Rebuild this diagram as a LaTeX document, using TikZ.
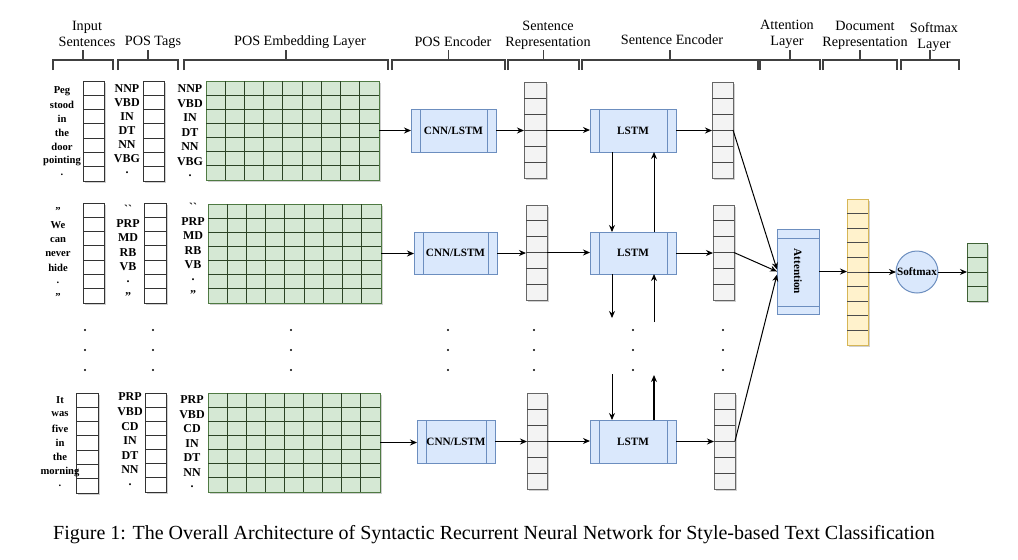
\documentclass[tikz,border=0pt]{standalone}
\usepackage{fontspec}
\setmainfont{Liberation Serif}
\newfontfamily\crudo[Ligatures=TeXOff]{Liberation Serif}
\usetikzlibrary{arrows.meta,calc,fit,shadows}

\definecolor{verdechiaro}{HTML}{D5E8D4}
\definecolor{verdescuro}{HTML}{4F7A43}
\definecolor{azzurro}{HTML}{DAE8FC}
\definecolor{bluscuro}{HTML}{6C8EBF}
\definecolor{giallino}{HTML}{FFF2CC}
\definecolor{ocra}{HTML}{D6B656}
\definecolor{grigino}{HTML}{F3F3F3}
\definecolor{grigio}{HTML}{666666}

\tikzset{
  freccia/.style={-{Stealth[length=3.5pt,width=3pt]}, line width=0.5pt},
  ombra/.style={drop shadow={shadow xshift=0.8pt, shadow yshift=-0.8pt, opacity=0.3, fill=black!60}},
  cornice/.style={inner sep=0pt, outer sep=0pt, line width=0.5pt},
  vbianco/.style={cornice, ombra, draw=black!80, fill=white},
  vgrigio/.style={cornice, ombra, draw=grigio, fill=grigino},
  vgiallo/.style={cornice, ombra, draw=ocra, fill=giallino},
  vverde/.style={cornice, ombra, draw=verdescuro, fill=verdechiaro},
  scatola/.style={cornice, draw=bluscuro, fill=azzurro, font=\bfseries\fontsize{5.6}{6}\selectfont},
  testo/.style={inner sep=0pt, font=\bfseries\fontsize{5.6}{6}\selectfont},
  processo/.style={scatola,
    path picture={
      \draw[bluscuro, line width=0.5pt] ([xshift=4.5pt]path picture bounding box.north west) -- ([xshift=4.5pt]path picture bounding box.south west);
      \draw[bluscuro, line width=0.5pt] ([xshift=-4.5pt]path picture bounding box.north east) -- ([xshift=-4.5pt]path picture bounding box.south east);}},
  attenzione/.style={scatola,
    path picture={
      \draw[bluscuro, line width=0.5pt] ([yshift=-4.5pt]path picture bounding box.north west) -- ([yshift=-4.5pt]path picture bounding box.north east);
      \draw[bluscuro, line width=0.5pt] ([yshift=4pt]path picture bounding box.south west) -- ([yshift=4pt]path picture bounding box.south east);}},
  testata/.style={align=center, inner sep=0pt, font=\fontsize{7.1}{8}\selectfont},
  parentesi/.style={line width=0.6pt, black!75},
  parola/.style={inner sep=0pt, font=\bfseries\fontsize{5.3}{6}\selectfont},
  etichetta/.style={inner sep=0pt, font=\bfseries\fontsize{6}{7}\selectfont},
  didascalia/.style={inner sep=0pt, font=\fontsize{10}{12}\selectfont}
}

% righe orizzontali e colonne verticali dentro un nodo
\newcommand{\righe}[3]{%
  \pgfmathtruncatemacro{\nr}{#2-1}%
  \foreach \k in {1,...,\nr}{
    \draw[#3, line width=0.5pt] ($(#1.north west)!\k/#2!(#1.south west)$) -- ($(#1.north east)!\k/#2!(#1.south east)$);}}
\newcommand{\colonne}[3]{%
  \pgfmathtruncatemacro{\nc}{#2-1}%
  \foreach \k in {1,...,\nc}{
    \draw[#3, line width=0.5pt] ($(#1.north west)!\k/#2!(#1.north east)$) -- ($(#1.south west)!\k/#2!(#1.south east)$);}}

\begin{document}
\begin{tikzpicture}[x=0.5pt, y=-0.5pt]
        \useasboundingbox (0,0) rectangle (1018,559);
        \fill[white] (0,0) rectangle (1018,559);

        % Intestazioni
        \node[testata] (hIn)  at (87,34)  {Input\\Sentences};
        \node[testata] (hTag) at (153,42) {POS Tags};
        \node[testata] (hEmb) at (300,42) {POS Embedding Layer};
        \node[testata] (hCod) at (453,42) {POS Encoder};
        \node[testata] (hRap) at (548,35) {Sentence\\Representation};
        \node[testata] (hFra) at (672,40) {Sentence Encoder};
        \node[testata] (hAtt) at (787,34) {Attention\\Layer};
        \node[testata] (hDoc) at (865,35) {Document\\Representation};
        \node[testata] (hSof) at (934,37) {Softmax\\Layer};

        % Parentesi sopra le colonne
        \foreach \a/\b in {53/113, 118/178, 184/388, 392/505, 508/579, 582/758, 760/820, 823/897, 901/959}{
          \draw[parentesi] (\a,70) -- (\a,60) -- (\b,60) -- (\b,70);
          \draw[parentesi] ({(\a+\b)/2},60) -- ({(\a+\b)/2},50);
        }

        % Prima frase
        \node[vbianco, fit={(83,81) (104,181)}] (in1) {};
        \righe{in1}{7}{black!80}
        \node[vbianco, fit={(143,81) (164,181)}] (pos1) {};
        \righe{pos1}{7}{black!80}
        \node[vverde, fit={(206,81) (379,180)}] (emb1) {};
        \righe{emb1}{7}{verdescuro!55!black}
        \colonne{emb1}{9}{verdescuro!55!black}
        \foreach \w [count=\i] in {Peg,stood,in,the,door,pointing,.}
          \node[parola] (w1\i) at (62,{91+14*(\i-1)}) {\w};
        \foreach \w [count=\i] in {NNP,VBD,IN,DT,NN,VBG,.}
          \node[etichetta] (t1\i) at (127,{89+14*(\i-1)}) {\w};
        \foreach \w [count=\i] in {NNP,VBD,IN,DT,NN,VBG,.}
          \node[etichetta] (e1\i) at (190,{89+14.5*(\i-1)}) {\w};
        \node[processo, fit={(411,109) (496,152)}] (cnn1) {};
        \node[testo] (cnn1t) at (cnn1.center) {CNN/LSTM};
        \node[vgrigio, fit={(524,82) (546,178)}] (rs1) {};
        \righe{rs1}{6}{grigio!70!black}
        \node[processo, fit={(590,109) (676,152)}] (lstm1) {};
        \node[testo] (lstm1t) at (lstm1.center) {LSTM};
        \node[vgrigio, fit={(712,82) (733,178)}] (out1) {};
        \righe{out1}{6}{grigio!70!black}

        % Seconda frase
        \node[vbianco, fit={(83,203) (104,303)}] (in2) {};
        \righe{in2}{7}{black!80}
        \node[vbianco, fit={(144,203) (166,303)}] (pos2) {};
        \righe{pos2}{7}{black!80}
        \node[vverde, fit={(208,204) (381,303)}] (emb2) {};
        \righe{emb2}{7}{verdescuro!55!black}
        \colonne{emb2}{9}{verdescuro!55!black}
        \foreach \w [count=\i] in {{''},We,can,never,hide,.,{''}}
          \node[parola] (w2\i) at (58,{211+14.3*(\i-1)}) {\w};
        \foreach \w [count=\i] in {{\crudo ``},PRP,MD,RB,VB,.,{''}}
          \node[etichetta] (t2\i) at (128,{209+14.5*(\i-1)}) {\w};
        \foreach \w [count=\i] in {{\crudo ``},PRP,MD,RB,VB,.,{''}}
          \node[etichetta] (e2\i) at (193,{207+14.5*(\i-1)}) {\w};
        \node[processo, fit={(414,232) (497,274)}] (cnn2) {};
        \node[testo] (cnn2t) at (cnn2.center) {CNN/LSTM};
        \node[vgrigio, fit={(526,205) (547,300)}] (rs2) {};
        \righe{rs2}{6}{grigio!70!black}
        \node[processo, fit={(590,232) (676,274)}] (lstm2) {};
        \node[testo] (lstm2t) at (lstm2.center) {LSTM};
        \node[vgrigio, fit={(713,205) (734,300)}] (out2) {};
        \righe{out2}{6}{grigio!70!black}

        % Ultima frase
        \node[vbianco, fit={(76,393) (98,493)}] (in3) {};
        \righe{in3}{7}{black!80}
        \node[vbianco, fit={(145,393) (166,492)}] (pos3) {};
        \righe{pos3}{7}{black!80}
        \node[vverde, fit={(208,393) (380,492)}] (emb3) {};
        \righe{emb3}{7}{verdescuro!55!black}
        \colonne{emb3}{9}{verdescuro!55!black}
        \foreach \w [count=\i] in {It,was,five,in,the,morning,.}
          \node[parola] (w3\i) at (60,{400+14.3*(\i-1)}) {\w};
        \foreach \w [count=\i] in {PRP,VBD,CD,IN,DT,NN,.}
          \node[etichetta] (t3\i) at (130,{397+14.6*(\i-1)}) {\w};
        \foreach \w [count=\i] in {PRP,VBD,CD,IN,DT,NN,.}
          \node[etichetta] (e3\i) at (192,{400+14.5*(\i-1)}) {\w};
        \node[processo, fit={(417,420) (495,463)}] (cnn3) {};
        \node[testo] (cnn3t) at (cnn3.center) {CNN/LSTM};
        \node[vgrigio, fit={(527,393) (547,489)}] (rs3) {};
        \righe{rs3}{6}{grigio!70!black}
        \node[processo, fit={(590,420) (676,463)}] (lstm3) {};
        \node[testo] (lstm3t) at (lstm3.center) {LSTM};
        \node[vgrigio, fit={(714,393) (735,489)}] (out3) {};
        \righe{out3}{6}{grigio!70!black}

        % Puntini
        \foreach \x in {85,153,291,448,534,633,723}
          \foreach \y in {330,350,370}
            \fill (\x,\y) circle (0.6pt);

        % Attenzione e uscita
        \node[attenzione, fit={(777,229) (819,314)}] (att) {};
        \node[testo, rotate=-90] (attTesto) at (att.center) {Attention};
        \node[vgiallo, fit={(847,199) (868,345)}] (dr) {};
        \righe{dr}{10}{black!70}
        \node[scatola, circle, minimum size=21pt] (sm) at (917,272) {Softmax};
        \node[vverde, draw=verdescuro!80!black, fit={(967,243) (987,301)}] (fin) {};
        \righe{fin}{4}{verdescuro!60!black}

        % Frecce orizzontali
        \foreach \r in {1,2,3}{
          \draw[freccia] (emb\r.east) -- (emb\r.east -| cnn\r.west);
          \draw[freccia] (cnn\r.east) -- (cnn\r.east -| rs\r.west);
          \draw[freccia] (rs\r.east) -- (rs\r.east -| lstm\r.west);
          \draw[freccia] (lstm\r.east) -- (lstm\r.east -| out\r.west);
        }
        \draw[freccia] (out1.east) -- ($(att.west)+(0,-2)$);
        \draw[freccia] (out2.east) -- (att.west);
        \draw[freccia] (out3.east) -- ($(att.west)+(0,3)$);
        \draw[freccia] (att.east) -- (att.east -| dr.west);
        \draw[freccia] (dr.east) -- (sm.west);
        \draw[freccia] (sm.east) -- (sm.east -| fin.west);

        % Frecce verticali tra gli LSTM
        \coordinate (giu2) at (612,318);
        \coordinate (su2) at (654,322);
        \coordinate (giu3) at (612,374);
        \coordinate (su3) at (654,375);
        \draw[freccia] ($(lstm1.south)+(-21,0)$) -- ($(lstm2.north)+(-21,0)$);
        \draw[freccia] ($(lstm2.north)+(21,0)$) -- ($(lstm1.south)+(21,0)$);
        \draw[freccia] ($(lstm2.south)+(-21,0)$) -- (giu2);
        \draw[freccia] (su2) -- ($(lstm2.south)+(21,0)$);
        \draw[freccia] (giu3) -- ($(lstm3.north)+(-21,0)$);
        \draw[freccia, line width=0.8pt] ($(lstm3.north)+(21,0)$) -- (su3);

        \node[didascalia] (cap) at (494,535) {Figure 1: The Overall Architecture of Syntactic Recurrent Neural Network for Style-based Text Classification};
\end{tikzpicture}
\end{document}
